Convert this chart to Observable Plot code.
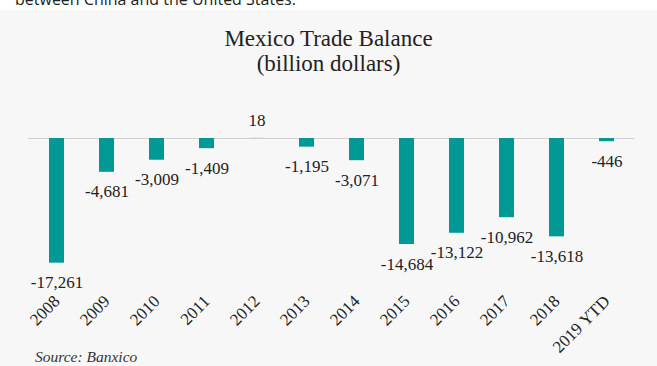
<!DOCTYPE html>
<html>
<head>
<meta charset="utf-8">
<script src="https://cdn.jsdelivr.net/npm/d3@7"></script>
<script src="https://cdn.jsdelivr.net/npm/@observablehq/plot@0.6"></script>
<style>
  html, body { margin: 0; padding: 0; background: #fff; width: 657px; height: 366px; overflow: hidden; }
  #lead { position: absolute; left: 15px; top: -12px; font-family: "Open Sans", sans-serif; font-size: 16px; color: #222; white-space: nowrap; }
  #box { position: absolute; left: 0; top: 10px; width: 657px; height: 356px; background: #f7f7f7; overflow: hidden; }
  #title { position: absolute; left: 0; width: 657px; top: 16px; text-align: center; font-family: "Liberation Serif", serif; font-size: 23px; line-height: 25px; color: #222; }
  #chart { position: absolute; left: 0; top: 70px; }
  #source { position: absolute; left: 35px; top: 338px; font-family: "Liberation Serif", serif; font-style: italic; font-size: 15.5px; color: #333; }
</style>
</head>
<body>
<div id="lead">between China and the United States.</div>
<div id="box">
  <div id="title">Mexico Trade Balance<br>(billion dollars)</div>
  <div id="chart"></div>
  <div id="source">Source: Banxico</div>
</div>
<script>
const years = ["2008","2009","2010","2011","2012","2013","2014","2015","2016","2017","2018","2019 YTD"];
const balances = [-17261, -4681, -3009, -1409, 18, -1195, -3071, -14684, -13122, -10962, -13618, -446];

const data = years.map((y, i) => ({year: y, value: balances[i]}));
const fmt = d3.formatLocale({decimal: ".", thousands: ",", grouping: [3], currency: ["$", ""], minus: "-"}).format(",");

const chart = Plot.plot({
  width: 657,
  height: 286,
  marginTop: 58,
  marginBottom: 98,
  marginLeft: 28,
  marginRight: 23,
  style: {background: "transparent", fontFamily: "Liberation Serif, serif", fontSize: "15px", color: "#222"},
  x: {domain: years, paddingInner: 0.7, paddingOuter: 0.35, label: null},
  y: {domain: [-18000, 0], axis: null},
  marks: [
    Plot.ruleY([0], {stroke: "#cfcfcf", strokeWidth: 1}),
    Plot.barY(data, {x: "year", y: "value", fill: "#009994"}),
    Plot.text(data.filter(d => d.value < 0), {
      x: "year", y: "value", text: d => fmt(d.value),
      lineAnchor: "top", dy: 13, fontSize: 17, fill: "#222"
    }),
    Plot.text(data.filter(d => d.value >= 0), {
      x: "year", y: "value", text: d => fmt(d.value),
      lineAnchor: "bottom", dy: -12, fontSize: 17, fill: "#222"
    }),
    Plot.axisX({tickSize: 0, tickRotate: -45, tickPadding: 30, fontSize: 17, fill: "#222", label: null})
  ]
});
document.getElementById("chart").appendChild(chart);
</script>
</body>
</html>
